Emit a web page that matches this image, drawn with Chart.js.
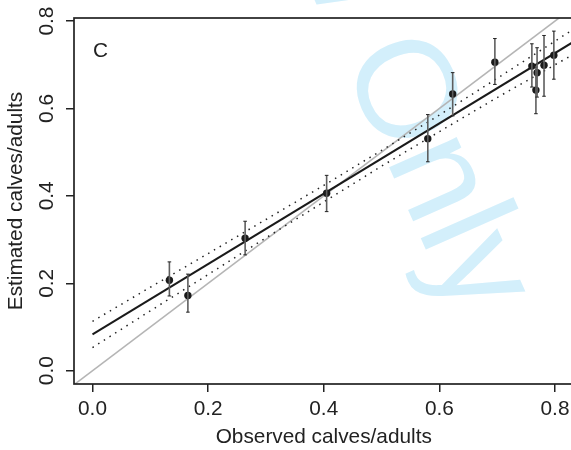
<!DOCTYPE html>
<html><head><meta charset="utf-8">
<script src="https://cdn.jsdelivr.net/npm/chart.js@4/dist/chart.umd.min.js"></script>
<style>html,body{margin:0;padding:0;overflow:hidden;background:#fff}canvas{display:block}</style>
</head><body>
<canvas id="c" width="600" height="450" style="width:600px;height:450px"></canvas>
<script>
// ---- data ----
const obsX    = [0.133,0.165,0.264,0.405,0.580,0.623,0.696,0.760,0.767,0.769,0.781,0.798];
const estY    = [0.207,0.172,0.303,0.406,0.531,0.633,0.706,0.697,0.642,0.682,0.699,0.722];
const errLow  = [0.171,0.134,0.265,0.364,0.478,0.583,0.655,0.649,0.588,0.626,0.628,0.667];
const errHigh = [0.249,0.221,0.342,0.447,0.586,0.682,0.760,0.748,0.695,0.739,0.767,0.777];
const fitX    = [0.0, 0.85];
const fitY    = [0.083, 0.767];
const bandX   = [0.0, 0.1, 0.2, 0.3, 0.4, 0.5, 0.6, 0.7, 0.8, 0.85];
const bandUp  = [0.113,0.191,0.268,0.346,0.424,0.504,0.585,0.669,0.754,0.797];
const bandLo  = [0.053,0.137,0.220,0.304,0.386,0.468,0.547,0.625,0.700,0.737];
const idLine  = [-0.05, 0.9];
const xTicks  = [0.0,0.2,0.4,0.6,0.8];
const yTicks  = [0.0,0.2,0.4,0.6,0.8];
const xTitle  = "Observed calves/adults";
const yTitle  = "Estimated calves/adults";
const panelLabel = "C";
const watermark = "For Review Only";

const FONT = "'Liberation Sans', Arial, Helvetica, sans-serif";
const FS = 20.8;
const pts = obsX.map((x,i)=>({x, y:estY[i]}));

const errorBars = {
  id:'errorBars',
  afterDatasetsDraw(chart){
    const {ctx, scales:{x, y}} = chart;
    ctx.save();
    obsX.forEach((v,i)=>{
      const px = x.getPixelForValue(v);
      const y1 = y.getPixelForValue(errLow[i]), y2 = y.getPixelForValue(errHigh[i]);
      ctx.strokeStyle = '#5e5e5e'; ctx.lineWidth = 1.6;
      ctx.beginPath(); ctx.moveTo(px,y1); ctx.lineTo(px,y2); ctx.stroke();
      ctx.strokeStyle = '#222'; ctx.lineWidth = 1;
      ctx.beginPath(); ctx.moveTo(px-1.8,y1); ctx.lineTo(px+1.8,y1);
      ctx.moveTo(px-1.8,y2); ctx.lineTo(px+1.8,y2); ctx.stroke();
    });
    ctx.restore();
  }
};

const decor = {
  id:'decor',
  beforeDraw(chart){
    const {ctx} = chart;
    ctx.save();
    ctx.fillStyle = '#d3effb';
    ctx.font = "140px " + FONT;
    ctx.translate(458, 322);
    ctx.rotate(66*Math.PI/180);
    ctx.textAlign = 'right';
    ctx.textBaseline = 'alphabetic';
    ctx.fillText(watermark, 0, 0);
    ctx.restore();
  },
  afterDraw(chart){
    const {ctx, chartArea:a, scales:{y}} = chart;
    ctx.save();
    ctx.strokeStyle = '#222'; ctx.lineWidth = 1.7;
    ctx.strokeRect(a.left, a.top, a.right-a.left, a.bottom-a.top);
    // y tick labels (rotated, as in the reference)
    ctx.fillStyle = '#222';
    ctx.font = FS + "px " + FONT;
    ctx.textAlign = 'center'; ctx.textBaseline = 'middle';
    y.ticks.forEach(t=>{
      const py = y.getPixelForValue(t.value);
      ctx.save(); ctx.translate(47, py); ctx.rotate(-Math.PI/2);
      ctx.fillText(t.value.toFixed(1), 0, 0); ctx.restore();
    });
    // panel label
    ctx.font = FS + "px " + FONT;
    ctx.textAlign = 'left'; ctx.textBaseline = 'alphabetic';
    ctx.fillText(panelLabel, a.left + 19, a.top + 39);
    ctx.restore();
  }
};

new Chart(document.getElementById('c'), {
  type:'scatter',
  data:{datasets:[
    {data: idLine.map(v=>({x:v,y:v})), showLine:true, borderColor:'#b5b5b5', borderWidth:1.6, pointRadius:0, order:5},
    {data: bandX.map((x,i)=>({x, y:bandUp[i]})), showLine:true, borderColor:'#222', borderWidth:1.5, borderDash:[1.5,5.2], pointRadius:0, order:4},
    {data: bandX.map((x,i)=>({x, y:bandLo[i]})), showLine:true, borderColor:'#222', borderWidth:1.5, borderDash:[1.5,5.2], pointRadius:0, order:4},
    {data: fitX.map((x,i)=>({x, y:fitY[i]})), showLine:true, borderColor:'#1a1a1a', borderWidth:2, pointRadius:0, order:3},
    {data: pts, showLine:false, pointRadius:3.7, pointBackgroundColor:'#1a1a1a', pointBorderWidth:0, order:1}
  ]},
  options:{
    responsive:false, animation:false, devicePixelRatio:1,
    layout:{padding:{left:0, top:18, right:26.5, bottom:0}},
    plugins:{legend:{display:false}, tooltip:{enabled:false}},
    elements:{line:{tension:0}},
    scales:{
      x:{type:'linear', min:-0.032, max:0.832,
        afterBuildTicks(s){ s.ticks = xTicks.map(v=>({value:v})); },
        afterFit(s){ s.height = 66; },
        border:{display:false},
        grid:{drawOnChartArea:false, drawTicks:true, tickLength:8, color:'#222', lineWidth:1.5},
        ticks:{font:{family:FONT, size:FS}, color:'#222', padding:5, maxRotation:0,
          callback:(v)=>Number(v).toFixed(1)},
        title:{display:true, text:xTitle, font:{family:FONT, size:FS}, color:'#222', padding:{top:0,bottom:0.5}}
      },
      y:{type:'linear', min:-0.0304, max:0.807,
        afterBuildTicks(s){ s.ticks = yTicks.map(v=>({value:v})); },
        afterFit(s){ s.width = 74; },
        border:{display:false},
        grid:{drawOnChartArea:false, drawTicks:true, tickLength:8, color:'#222', lineWidth:1.5},
        ticks:{display:false},
        title:{display:true, text:yTitle, font:{family:FONT, size:FS}, color:'#222', padding:{top:3.5,bottom:0}}
      }
    }
  },
  plugins:[errorBars, decor]
});
</script>
</body></html>
